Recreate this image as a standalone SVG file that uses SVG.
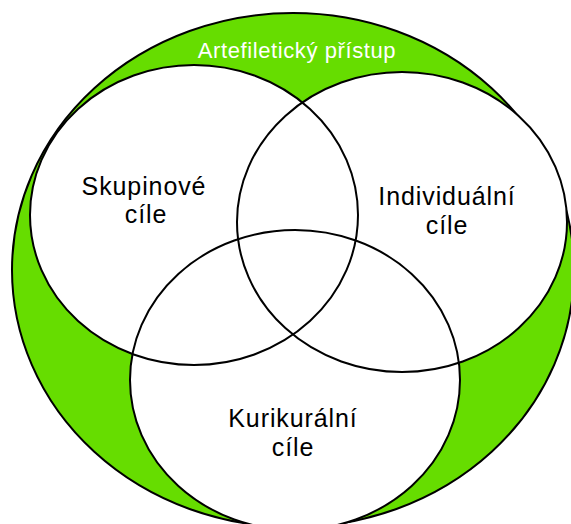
<svg xmlns="http://www.w3.org/2000/svg" width="571" height="524" viewBox="0 0 571 524">
<style>
.ring{fill:none;stroke:#000;stroke-width:2}
.fillw{fill:#fff;stroke:none}
.lbl{font-family:"Liberation Sans",Arial,sans-serif;font-size:25px;fill:#000;text-anchor:middle;letter-spacing:0.9px}
.ttl{font-family:"Liberation Sans",Arial,sans-serif;font-size:22px;fill:#fff;text-anchor:middle;letter-spacing:0.6px}
</style>
<rect width="571" height="524" fill="#fff"/>
<g id="artefileticky-pristup">
<ellipse cx="293" cy="270" rx="281" ry="257" fill="#66dd00" stroke="#000" stroke-width="2"/>
<text class="ttl" x="297" y="58">Artefiletický přístup</text>
</g>
<g id="fills">
<ellipse class="fillw" cx="194" cy="215" rx="164" ry="150"/>
<ellipse class="fillw" cx="402" cy="222" rx="165" ry="150"/>
<ellipse class="fillw" cx="295" cy="380" rx="165" ry="150"/>
</g>
<g id="skupinove-cile">
<ellipse class="ring" cx="194" cy="215" rx="164" ry="150"/>
<text class="lbl" x="144" y="195">Skupinové</text>
<text class="lbl" x="146" y="223">cíle</text>
</g>
<g id="individualni-cile">
<ellipse class="ring" cx="402" cy="222" rx="165" ry="150"/>
<text class="lbl" x="447" y="205">Individuální</text>
<text class="lbl" x="447" y="234">cíle</text>
</g>
<g id="kurikuralni-cile">
<ellipse class="ring" cx="295" cy="380" rx="165" ry="150"/>
<text class="lbl" x="293" y="427">Kurikurální</text>
<text class="lbl" x="293" y="456">cíle</text>
</g>
<g id="connectors"></g>
</svg>
